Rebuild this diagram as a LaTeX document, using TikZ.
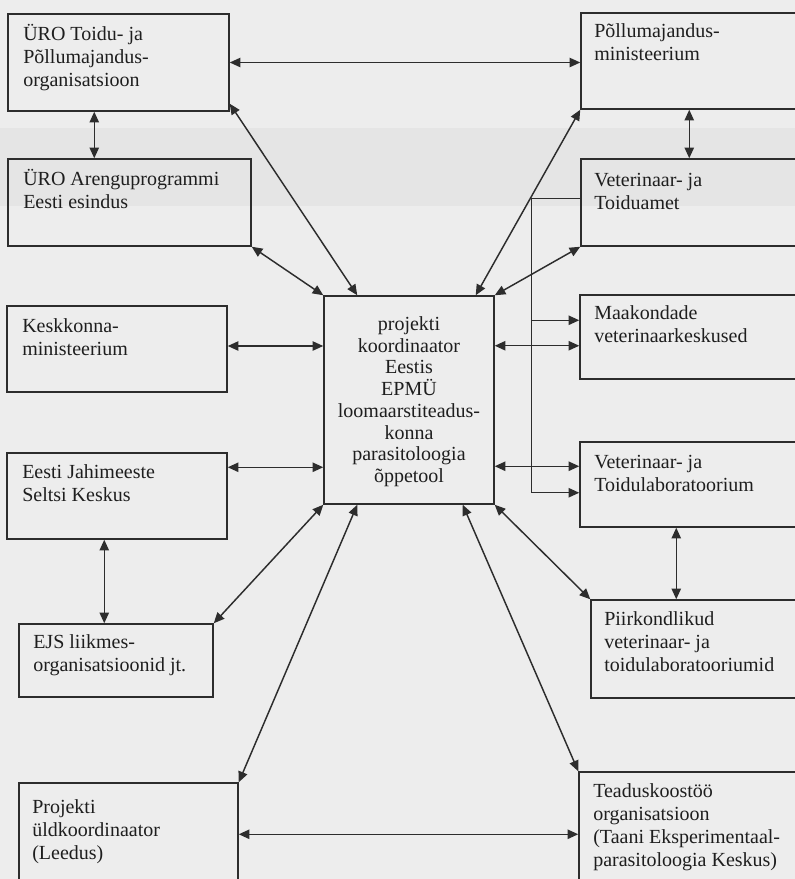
\documentclass[tikz,border=0pt]{standalone}
\usepackage{fontspec}
\setmainfont{Liberation Serif}
\usetikzlibrary{arrows.meta,calc}
\definecolor{bgc}{RGB}{237,237,237}
\definecolor{bandc}{RGB}{229,229,229}
\definecolor{linec}{RGB}{45,45,45}
\definecolor{txtc}{RGB}{30,30,30}
\newcommand\boxfont{\fontsize{15pt}{17.25pt}\selectfont}
\newcommand\midfont{\fontsize{15pt}{16.3pt}\selectfont}
\begin{document}
\begin{tikzpicture}[x=0.75pt,y=-0.75pt,
  orgbox/.style={draw=linec,line width=1.1pt,rectangle,inner sep=0pt},
  lbl/.style={anchor=north west,inner sep=0pt,align=left,font=\boxfont,text=txtc},
  conn/.style={draw=linec,line width=1.1pt},
  biarr/.style={conn,{Triangle[length=8pt,width=7pt]}-{Triangle[length=8pt,width=7pt]}},
  onearr/.style={conn,-{Triangle[length=8pt,width=7pt]}}]
\useasboundingbox (0,0) rectangle (795,879);
\clip (0,0) rectangle (795,879);
\fill[bgc] (0,0) rectangle (795,879);
\fill[bandc] (0,128) rectangle (795,206);
% boxes
\node[orgbox,minimum width=221*0.75pt,minimum height=97*0.75pt] (A) at (118.5,62.5) {};
\node[orgbox,minimum width=243*0.75pt,minimum height=87*0.75pt] (B) at (129.5,202.5) {};
\node[orgbox,minimum width=239*0.75pt,minimum height=96*0.75pt] (C) at (700.5,61) {};
\node[orgbox,minimum width=239*0.75pt,minimum height=87*0.75pt] (D) at (700.5,202.5) {};
\node[orgbox,minimum width=220*0.75pt,minimum height=86*0.75pt] (K) at (117,349) {};
\node[orgbox,minimum width=220*0.75pt,minimum height=86*0.75pt] (E) at (117,496) {};
\node[orgbox,minimum width=170*0.75pt,minimum height=208*0.75pt] (P) at (409,400) {};
\node[orgbox,minimum width=240*0.75pt,minimum height=84*0.75pt] (M) at (700,337) {};
\node[orgbox,minimum width=240*0.75pt,minimum height=85*0.75pt] (V) at (700,484.5) {};
\node[orgbox,minimum width=229*0.75pt,minimum height=98*0.75pt] (R) at (705.5,649) {};
\node[orgbox,minimum width=241*0.75pt,minimum height=128*0.75pt] (T) at (699.5,836) {};
\node[orgbox,minimum width=194*0.75pt,minimum height=73*0.75pt] (J) at (116,660.5) {};
\node[orgbox,minimum width=219*0.75pt,minimum height=117*0.75pt] (L) at (128.5,841.5) {};
% texts
\node[lbl] (At) at (23,24) {\strut ÜRO Toidu- ja\\Põllumajandus-\\organisatsioon};
\node[lbl] (Bt) at (23,169) {\strut ÜRO Arenguprogrammi\\Eesti esindus};
\node[lbl] (Ct) at (594,21) {\strut Põllumajandus-\\ministeerium};
\node[lbl] (Dt) at (594,170) {\strut Veterinaar- ja\\Toiduamet};
\node[lbl] (Kt) at (22,316) {\strut Keskkonna-\\ministeerium};
\node[lbl] (Et) at (22,462) {\strut Eesti Jahimeeste\\Seltsi Keskus};
\node[lbl] (Mt) at (594,303) {\strut Maakondade\\veterinaarkeskused};
\node[lbl] (Vt) at (594,452) {\strut Veterinaar- ja\\Toidulaboratoorium};
\node[lbl] (Rt) at (604,609) {\strut Piirkondlikud\\veterinaar- ja\\toidulaboratooriumid};
\node[lbl] (Tt) at (593,781) {\strut Teaduskoostöö\\organisatsioon\\(Taani Eksperimentaal-\\parasitoloogia Keskus)};
\node[lbl] (Jt) at (33,632) {\strut EJS liikmes-\\organisatsioonid jt.};
\node[lbl] (Lt) at (32,797) {\strut Projekti\\üldkoordinaator\\(Leedus)};
\node[anchor=north,inner sep=0pt,align=center,font=\midfont,text=txtc] (Pt) at (409,315) {\strut projekti\\koordinaator\\Eestis\\EPMÜ\\loomaarstiteadus-\\konna\\parasitoloogia\\õppetool};
% helper points on box borders
\coordinate (ab) at ($(A.south west)+(87,0)$);
\coordinate (cd) at ($(C.south west)+(109,0)$);
\coordinate (ej) at ($(E.south west)+(98,0)$);
\coordinate (vr) at ($(V.south west)+(97,0)$);
\coordinate (dl) at ($(D.west)+(0,-4)$);
\coordinate (br) at ($(D.west)+(-49,-4)$);
\coordinate (mb) at ($(M.north west)+(0,26)$);
\coordinate (vb) at ($(V.south west)+(0,-35)$);
\coordinate (mp) at ($(M.south west)+(0,-34)$);
\coordinate (vp) at ($(V.north west)+(0,25)$);
\coordinate (kp) at ($(K.east)+(0,-3)$);
\coordinate (ep) at ($(E.north east)+(0,15)$);
\coordinate (lt) at ($(L.north east)+(0,52)$);
% connectors
\draw[biarr] (A.east) -- (A.east -| C.west);
\draw[biarr] (ab) -- (ab |- B.north);
\draw[biarr] ($(A.south east)+(0,-8)$) -- ($(P.north west)+(34,0)$);
\draw[biarr] (B.south east) -- (P.north west);
\draw[biarr] (C.south west) -- ($(P.north east)+(-19,0)$);
\draw[biarr] (D.south west) -- (P.north east);
\draw[biarr] (cd) -- (cd |- D.north);
\draw[conn] (dl) -- (br) -- (br |- vb);
\draw[onearr] (br |- mb) -- (mb);
\draw[onearr] (br |- vb) -- (vb);
\draw[biarr] (P.east |- mp) -- (mp);
\draw[biarr] (P.east |- vp) -- (vp);
\draw[biarr] (kp) -- (P.west |- kp);
\draw[biarr] (ep) -- (P.west |- ep);
\draw[biarr] (ej) -- (ej |- J.north);
\draw[biarr] (J.north east) -- (P.south west);
\draw[biarr] ($(P.south west)+(34,0)$) -- (L.north east);
\draw[biarr] (P.south east) -- (R.north west);
\draw[biarr] ($(P.south east)+(-32,0)$) -- (T.north west);
\draw[biarr] (vr) -- (vr |- R.north);
\draw[biarr] (lt) -- (T.west |- lt);
\end{tikzpicture}
\end{document}
